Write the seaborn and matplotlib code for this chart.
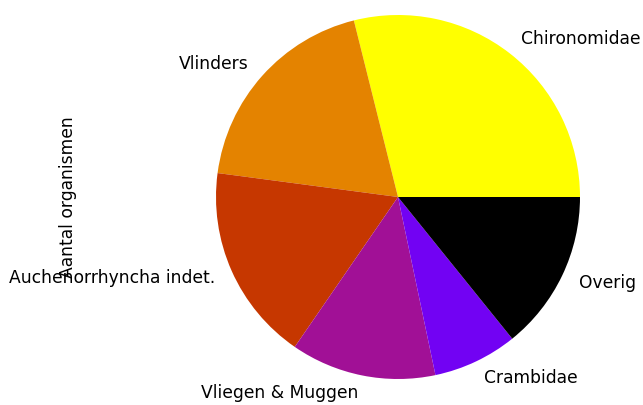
import pandas as pd
import seaborn as sns
import matplotlib.pyplot as plt

sns.set_style("white", rc={'patch.force_edgecolor': False,
                           'patch.edgecolor': 'none',
                           'text.color': 'black',
                           'axes.labelcolor': 'black'})
plt.rcParams['font.family'] = ['DejaVu Sans']

# Aantal organismen per groep
groepen = ['Chironomidae', 'Vlinders', 'Auchenorrhyncha indet.',
           'Vliegen & Muggen', 'Crambidae', 'Overig']
aantallen = [289, 190, 175, 129, 75, 142]

df = pd.DataFrame({'Aantal organismen': aantallen}, index=groepen)

fig = plt.figure(figsize=(6.43, 4.05), dpi=100)
ax = fig.add_axes([170.5 / 643, -19.5 / 405, 455 / 643, 455 / 405])
df.plot.pie(y='Aantal organismen', ax=ax, colormap='gnuplot_r',
            legend=False, textprops={'fontsize': 12.3, 'color': 'black'},
            wedgeprops={'linewidth': 0})
ax.set_xlim(-1.25, 1.25)
ax.set_ylim(-1.25, 1.25)
ax.set_ylabel('Aantal organismen', fontsize=12.3, color='black')
ax.yaxis.set_label_coords(-0.205, 0.5)

plt.savefig('out.png', dpi=100)
